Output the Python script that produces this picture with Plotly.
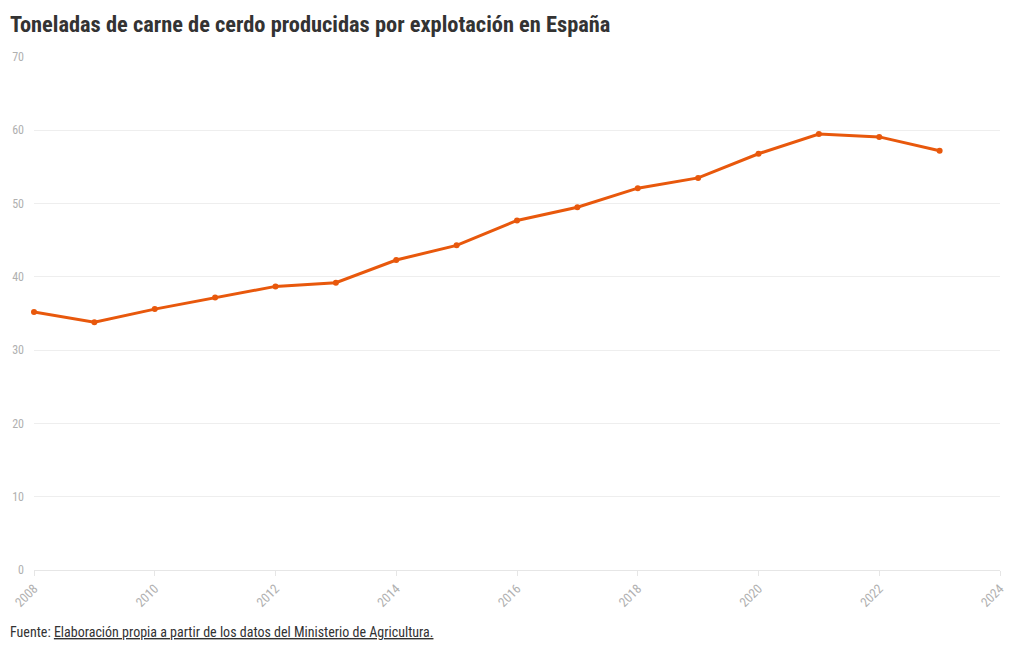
import plotly.graph_objects as go

years = list(range(2008, 2024))
toneladas = [35.2, 33.8, 35.6, 37.2, 38.7, 39.2, 42.3, 44.3, 47.7, 49.5, 52.1, 53.5, 56.8, 59.5, 59.1, 57.2]
title_text = "Toneladas de carne de cerdo producidas por explotación en España"
source_label = "Fuente: "
source_link = "Elaboración propia a partir de los datos del Ministerio de Agricultura."

FONT = "Roboto Condensed, Liberation Sans Narrow, DejaVu Sans Condensed, Roboto, sans-serif"
COLOR = "#e8580c"

# page is rendered with an 8px body offset
OFF = 8
L, R, T, B = 34 - OFF, 28, 57 - OFF, 88
plot_h = 650 - T - B

fig = go.Figure()
fig.add_trace(go.Scatter(
    x=years, y=toneladas, mode="lines+markers",
    line=dict(color=COLOR, width=3),
    marker=dict(color=COLOR, size=6),
    hoverinfo="x+y", showlegend=False, cliponaxis=False,
))

fig.update_layout(
    width=1020, height=650,
    margin=dict(l=L, r=R, t=T, b=B, autoexpand=False),
    paper_bgcolor="white", plot_bgcolor="white",
    font=dict(family=FONT, color="#aaaaaa", size=12),
    title=dict(text="<b>" + title_text + "</b>", x=2 / 1020, xanchor="left",
               y=1 - 16 / 650, yanchor="middle",
               font=dict(family=FONT, size=22.4, color="#333333")),
    xaxis=dict(range=[2008, 2024], tickvals=list(range(2008, 2025, 2)), tickangle=-45,
               showgrid=False, zeroline=False, showline=True, linecolor="#e6e6e6",
               ticks="outside", ticklen=5, tickcolor="#e6e6e6", automargin=False,
               tickfont=dict(family=FONT, size=13, color="#b0b0b0")),
    yaxis=dict(range=[0, 70], tickvals=list(range(0, 71, 10)), showgrid=True, gridcolor="#eeeeee",
               zeroline=False, ticks="", ticklabelstandoff=9, automargin=False,
               tickfont=dict(family=FONT, size=12, color="#b0b0b0")),
    annotations=[dict(
        text=source_label + "<u>" + source_link + "</u>",
        x=0, xref="paper", xanchor="left", xshift=-26,
        y=-(632 - 570) / plot_h, yref="paper", yanchor="middle", showarrow=False,
        font=dict(family=FONT, size=14, color="#333333"),
    )],
)

fig.write_html("out.html")
